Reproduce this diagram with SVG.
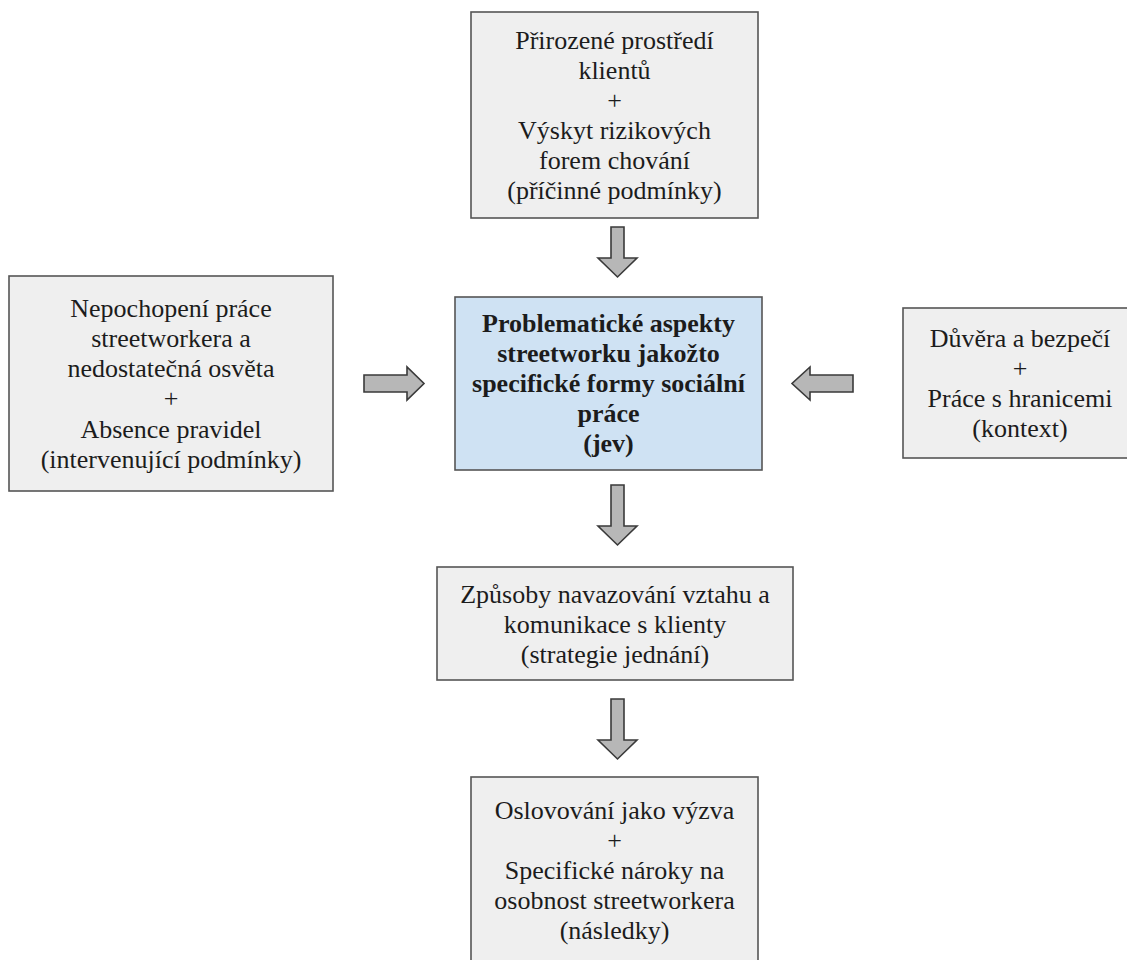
<svg xmlns="http://www.w3.org/2000/svg" width="1127" height="960" viewBox="0 0 1127 960">
<style>
.box{fill:#efefef;stroke:#555555;stroke-width:1.6}
.core{fill:#cfe2f3;stroke:#555555;stroke-width:1.6}
.t{font-family:"Liberation Serif","Times New Roman",serif;font-size:26px;fill:#1c1c1c;text-anchor:middle}
.b{font-weight:bold}
.arr{fill:#b7b7b7;stroke:#3a3a3a;stroke-width:1.6;stroke-linejoin:miter}
</style>
<rect width="1127" height="960" fill="#ffffff"/>
<g id="connectors">
<polygon class="arr" points="611,227 624,227 624,258 637,258 617.5,277 598,258 611,258"/>
<polygon class="arr" points="611,485 624,485 624,526 637,526 617.5,545 598,526 611,526"/>
<polygon class="arr" points="611,699 624,699 624,740 637,740 617.5,759 598,740 611,740"/>
<polygon class="arr" points="364,375 407,375 407,367 424,383.5 407,400 407,392 364,392"/>
<polygon class="arr" points="853,375 810,375 810,367 792,383.5 810,400 810,392 853,392"/>
</g>
<g id="node-pricinne">
<rect class="box" x="471" y="12" width="287" height="206"/>
<text class="t" x="614.5" y="49">Přirozené prostředí</text>
<text class="t" x="614.5" y="79">klientů</text>
<text class="t" x="614.5" y="109">+</text>
<text class="t" x="614.5" y="139">Výskyt rizikových</text>
<text class="t" x="614.5" y="169">forem chování</text>
<text class="t" x="614.5" y="199">(příčinné podmínky)</text>
</g>
<g id="node-intervenujici">
<rect class="box" x="9" y="276" width="324" height="215"/>
<text class="t" x="171" y="317">Nepochopení práce</text>
<text class="t" x="171" y="347">streetworkera a</text>
<text class="t" x="171" y="377">nedostatečná osvěta</text>
<text class="t" x="171" y="407">+</text>
<text class="t" x="171" y="438">Absence pravidel</text>
<text class="t" x="171" y="468">(intervenující podmínky)</text>
</g>
<g id="node-jev">
<rect class="core" x="455" y="297" width="307" height="173"/>
<text class="t b" x="608.5" y="332">Problematické aspekty</text>
<text class="t b" x="608.5" y="362">streetworku jakožto</text>
<text class="t b" x="608.5" y="392">specifické formy sociální</text>
<text class="t b" x="608.5" y="422">práce</text>
<text class="t b" x="608.5" y="452">(jev)</text>
</g>
<g id="node-kontext">
<rect class="box" x="903" y="308" width="234" height="150"/>
<text class="t" x="1020" y="347">Důvěra a bezpečí</text>
<text class="t" x="1020" y="377">+</text>
<text class="t" x="1020" y="407">Práce s hranicemi</text>
<text class="t" x="1020" y="437">(kontext)</text>
</g>
<g id="node-strategie">
<rect class="box" x="437" y="567" width="356" height="113"/>
<text class="t" x="615" y="603">Způsoby navazování vztahu a</text>
<text class="t" x="615" y="633">komunikace s klienty</text>
<text class="t" x="615" y="663">(strategie jednání)</text>
</g>
<g id="node-nasledky">
<rect class="box" x="471" y="777" width="287" height="190"/>
<text class="t" x="614.5" y="819">Oslovování jako výzva</text>
<text class="t" x="614.5" y="849">+</text>
<text class="t" x="614.5" y="879">Specifické nároky na</text>
<text class="t" x="614.5" y="909">osobnost streetworkera</text>
<text class="t" x="614.5" y="939">(následky)</text>
</g>
</svg>
